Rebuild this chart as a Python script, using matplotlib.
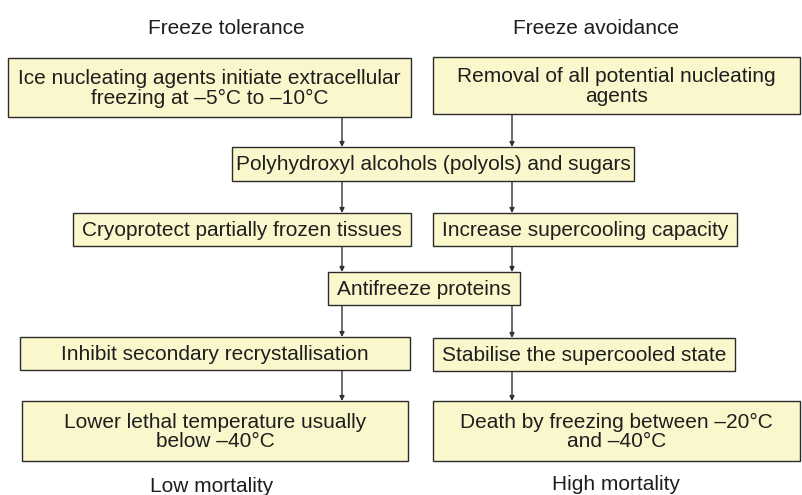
import matplotlib
matplotlib.use('Agg')
import matplotlib.pyplot as plt
from matplotlib.patches import Rectangle
from matplotlib import font_manager

# column headers and footers
headers = ['Freeze tolerance', 'Freeze avoidance']
footers = ['Low mortality', 'High mortality']

# box texts, top to bottom
box_texts = [
    'Ice nucleating agents initiate extracellular\nfreezing at \u20135\u00b0C to \u201310\u00b0C',
    'Removal of all potential nucleating\nagents',
    'Polyhydroxyl alcohols (polyols) and sugars',
    'Cryoprotect partially frozen tissues',
    'Increase supercooling capacity',
    'Antifreeze proteins',
    'Inhibit secondary recrystallisation',
    'Stabilise the supercooled state',
    'Lower lethal temperature usually\nbelow \u201340\u00b0C',
    'Death by freezing between \u201320\u00b0C\nand \u201340\u00b0C',
]

# connections between boxes (from index, to index, column)
links = [(0, 2, 'L'), (1, 2, 'R'), (2, 3, 'L'), (2, 4, 'R'), (3, 5, 'L'),
         (4, 5, 'R'), (5, 6, 'L'), (5, 7, 'R'), (6, 8, 'L'), (7, 9, 'R')]

# layout in pixels: x0, y0, x1, y1
layout = [
    (8, 58, 411, 117),
    (433, 57, 800, 114),
    (232, 147, 634, 181),
    (73, 213, 411, 246),
    (433, 213, 737, 246),
    (328, 272, 520, 305),
    (20, 337, 410, 370),
    (433, 338, 735, 371),
    (22, 401, 408, 461),
    (433, 401, 800, 461),
]
col_x = {'L': 342, 'R': 512}
header_pos = [(226, 28), (596, 28)]
footer_pos = [(212, 487), (616, 484)]

fill = '#fbf7cc'
edge = '#2b2b2b'

names = {f.name for f in font_manager.fontManager.ttflist}
head_font = 'Liberation Sans Narrow' if 'Liberation Sans Narrow' in names else 'Liberation Sans'

fig = plt.figure(figsize=(8.02, 4.95), dpi=100)
ax = fig.add_axes([0, 0, 1, 1])
ax.set_xlim(0, 802)
ax.set_ylim(495, 0)
ax.axis('off')

for (x0, y0, x1, y1), txt in zip(layout, box_texts):
    # soft shadow to the lower right
    ax.add_patch(Rectangle((x0 + 1.2, y0 + 1.2), x1 - x0, y1 - y0,
                           facecolor='#999999', edgecolor='none', zorder=1))
    ax.add_patch(Rectangle((x0, y0), x1 - x0, y1 - y0, facecolor=fill,
                           edgecolor=edge, linewidth=1.0, zorder=2))
    ax.text((x0 + x1) / 2, (y0 + y1) / 2 + 1, txt, ha='center', va='center',
            fontsize=15, family='Liberation Sans', color='#1e1e1e',
            linespacing=1.02, zorder=3)

for a, b, c in links:
    x = col_x[c]
    ax.annotate('', xy=(x, layout[b][1]), xytext=(x, layout[a][3] + 1),
                arrowprops=dict(arrowstyle='-|>', color='#333333', lw=1.0,
                                mutation_scale=7, shrinkA=0, shrinkB=0),
                zorder=4)

for txt, (x, y) in zip(headers, header_pos):
    ax.text(x, y, txt, ha='center', va='center', fontsize=15,
            family=head_font, color='#1e1e1e')
for txt, (x, y) in zip(footers, footer_pos):
    ax.text(x, y, txt, ha='center', va='center', fontsize=15,
            family=head_font, color='#1e1e1e')

fig.savefig('out.png', dpi=100)
